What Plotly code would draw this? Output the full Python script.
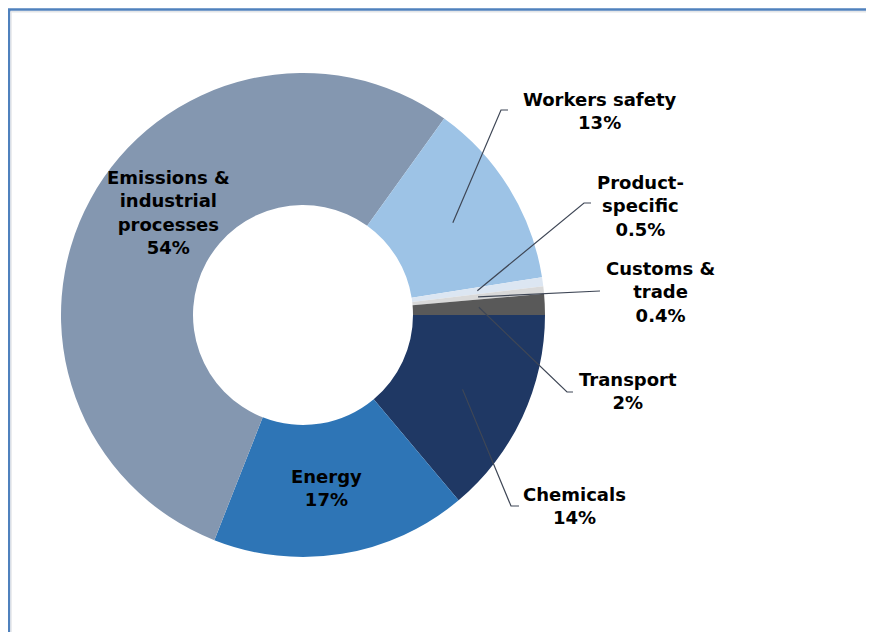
import numpy as np
import plotly.graph_objects as go

# data (clockwise from 3 o'clock)
categories = ["Chemicals", "Energy", "Emissions & industrial processes", "Workers safety",
              "Product-specific", "Customs & trade", "Transport"]
values = [13.9, 17.1, 54.0, 12.6, 0.6, 0.5, 1.4]
pct_labels = ["14%", "17%", "54%", "13%", "0.5%", "0.4%", "2%"]
colors = ["#1F3864", "#2E75B6", "#8497B0", "#9DC3E6", "#DCE6F2", "#D9D9D9", "#595959"]

# page has an 8px body margin, so the figure is a bit smaller and shifted
OFF = 8
W, H = 874 - OFF, 632 - OFF
cx, cy, r_out, r_in = 303, 315, 242, 110


def px(x):
    return (x - OFF) / W


def py(y):
    return 1 - (y - OFF) / H


fig = go.Figure(go.Pie(
    labels=categories, values=values, sort=False, direction="clockwise", rotation=90,
    hole=r_in / r_out, marker=dict(colors=colors, line=dict(width=0)),
    textinfo="none", hoverinfo="label+percent", showlegend=False,
    domain=dict(x=[px(cx - r_out), px(cx + r_out)], y=[py(cy + r_out), py(cy - r_out)]),
))

# label text: (label, x centre, y centre) in page pixels
label_pos = {
    "Chemicals": ("Chemicals<br>14%", 574, 506),
    "Energy": ("Energy<br>17%", 326, 488),
    "Emissions & industrial processes": ("Emissions &<br>industrial<br>processes<br>54%", 168, 213),
    "Workers safety": ("Workers safety<br>13%", 600, 111),
    "Product-specific": ("Product-<br>specific<br>0.5%", 640, 206),
    "Customs & trade": ("Customs &<br>trade<br>0.4%", 660, 292),
    "Transport": ("Transport<br>2%", 628, 391),
}
# leader line elbows for outside labels
elbows = {
    "Workers safety": [(501, 110), (508, 110)],
    "Product-specific": [(584, 203), (591, 203)],
    "Customs & trade": [(600, 291)],
    "Transport": [(567, 392), (573, 392)],
    "Chemicals": [(511, 506), (519, 506)],
}

total = sum(values)
cum = np.cumsum([0] + values[:-1])
r_mid = (r_in + r_out) / 2
for cat, v, c0 in zip(categories, values, cum):
    text, tx, ty = label_pos[cat]
    fig.add_annotation(text="<b>" + text + "</b>", x=px(tx), y=py(ty), xref="paper", yref="paper",
                       showarrow=False, xanchor="center", yanchor="middle", align="center",
                       font=dict(family="DejaVu Sans", size=18, color="black"))
    if cat in elbows:
        a = np.radians(90 + 360 * (c0 + v / 2) / total)
        sx, sy = cx + r_mid * np.sin(a), cy - r_mid * np.cos(a)
        pts = [(sx, sy)] + elbows[cat]
        path = "M " + " L ".join(f"{px(x):.5f},{py(y):.5f}" for x, y in pts)
        fig.add_shape(type="path", path=path, xref="paper", yref="paper",
                      line=dict(color="#3F4756", width=1.2))

# frame
fig.add_shape(type="line", x0=px(8), x1=1.01, y0=py(9.5), y1=py(9.5), xref="paper", yref="paper",
              line=dict(color="#4F81BD", width=2.5))
fig.add_shape(type="line", x0=px(9.2), x1=px(9.2), y0=py(9), y1=-0.01, xref="paper", yref="paper",
              line=dict(color="#4F81BD", width=2.4))
fig.add_shape(type="line", x0=px(11), x1=1.01, y0=py(11.7), y1=py(11.7), xref="paper", yref="paper",
              line=dict(color="#E4E6E8", width=1.5))
fig.add_shape(type="line", x0=px(11), x1=px(11), y0=py(11.7), y1=-0.01, xref="paper", yref="paper",
              line=dict(color="#E4E6E8", width=1.5))

fig.update_layout(width=W, height=H, margin=dict(l=0, r=0, t=0, b=0),
                  paper_bgcolor="white", plot_bgcolor="white")

fig.write_html("out.html")
